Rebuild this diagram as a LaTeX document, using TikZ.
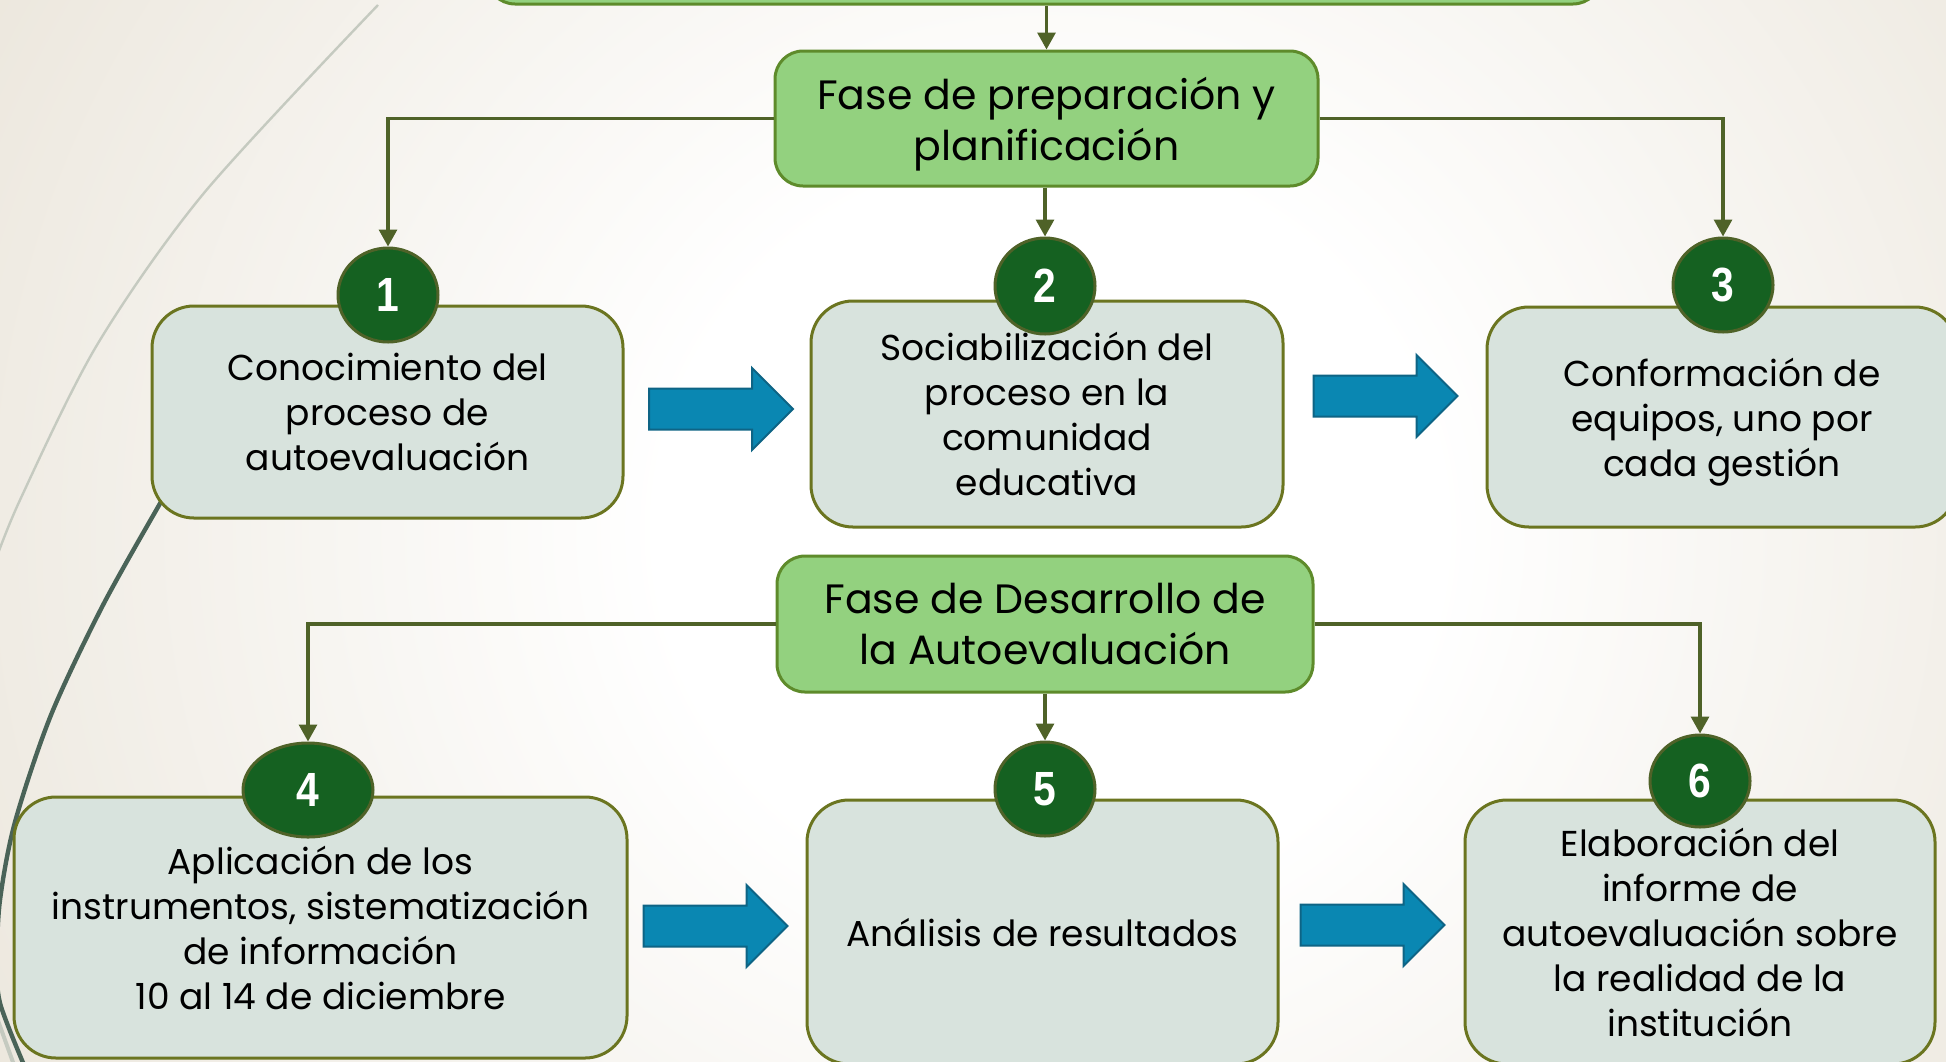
\documentclass[tikz,border=0pt]{standalone}
\usepackage{fontspec}
\setmainfont{Poppins}
\newfontfamily\numfont[FakeStretch=0.85]{Liberation Sans}
\usetikzlibrary{shapes.geometric,arrows.meta}
\definecolor{bgbeige}{HTML}{E4DDCF}
\definecolor{phasefill}{HTML}{93D17F}
\definecolor{phaseborder}{HTML}{5E8B2B}
\definecolor{boxfill}{HTML}{D8E3DD}
\definecolor{boxborder}{HTML}{6B7520}
\definecolor{circfill}{HTML}{156121}
\definecolor{circborder}{HTML}{4F6228}
\definecolor{conncolor}{HTML}{4F6228}
\definecolor{arrowfill}{HTML}{0A87B2}
\definecolor{arrowborder}{HTML}{0E6485}
\definecolor{curvedark}{HTML}{4A6358}
\definecolor{curvelight}{HTML}{C5CAC0}
\pgfdeclareradialshading{bgshade}{\pgfpoint{0bp}{0bp}}{color(0bp)=(white); color(9bp)=(white); color(36bp)=(bgbeige); color(100bp)=(bgbeige)}
\tikzset{
  phasebox/.style={draw=phaseborder, fill=phasefill, rounded corners=14pt, line width=1.5pt,
    align=center, inner sep=0pt, text depth=0pt, font=\fontsize{20.5}{25.5}\selectfont},
  stepbox/.style={draw=boxborder, fill=boxfill, rounded corners=21pt, line width=1.5pt,
    align=center, inner sep=0pt, text depth=0pt, font=\fontsize{18}{22.5}\selectfont},
  numc/.style={ellipse, draw=circborder, fill=circfill, line width=1.5pt, text=white,
    inner sep=0pt, font=\numfont\bfseries\fontsize{24}{24}\selectfont},
  conn/.style={draw=conncolor, line width=1.6pt, -{Triangle[length=8.5pt,width=9pt]}},
  blockarrow/.style={fill=arrowfill, draw=arrowborder, line width=1pt, line join=miter},
  barrow/.pic={\draw[blockarrow] (-72,-20.5) -- (31,-20.5) -- (31,-41) -- (72,0) -- (31,41) -- (31,20.5) -- (-72,20.5) -- cycle;}
}
\begin{document}
\begin{tikzpicture}[x=0.5pt,y=-0.5pt]
\useasboundingbox (0,0) rectangle (1946,1061);
\clip (0,0) rectangle (1946,1061);
\shade[shading=bgshade] (-30,-500) rectangle (2130,1560);
% decorative theme curves
\draw[curvelight, line width=1.2pt] plot[smooth] coordinates {(378,5) (204,193) (97,345) (20,500) (-8,570)};
\draw[curvelight, line width=2pt] plot[smooth] coordinates {(-4,1015) (5,1040) (14,1065)};
\draw[curvedark, line width=2.2pt] plot[smooth] coordinates {(180,470) (158,507) (102,607) (51,715) (15,822) (0,900) (-3,960) (0,1003) (24,1065)};
% top phase bar
\node[phasebox, minimum width=557pt, minimum height=32pt] (top) at (1044,-28) {};
% phase boxes
\node[phasebox, minimum width=271.5pt, minimum height=67.5pt] (p1) at (1046.5,118.5) {Fase de preparación y\\planificación};
\node[phasebox, minimum width=268pt, minimum height=68pt] (p2) at (1045,624) {Fase de Desarrollo de\\la Autoevaluación};
% step boxes
\node[stepbox, minimum width=235.5pt, minimum height=106pt] (b1) at (387.5,412) {Conocimiento del\\proceso de\\autoevaluación};
\node[stepbox, minimum width=236pt, minimum height=113pt] (b2) at (1047,414) {Sociabilización del\\proceso en la\\comunidad\\educativa};
\node[stepbox, minimum width=235pt, minimum height=110pt] (b3) at (1722,417) {Conformación de\\equipos, uno por\\cada gestión};
\node[stepbox, minimum width=306.5pt, minimum height=130.5pt] (b4) at (320.5,927.5) {Aplicación de los\\instrumentos, sistematización\\de información\\10 al 14 de diciembre};
\node[stepbox, minimum width=235.5pt, minimum height=132pt] (b5) at (1042.5,932) {Análisis de resultados};
\node[stepbox, minimum width=235pt, minimum height=132pt] (b6) at (1700,932) {Elaboración del\\informe de\\autoevaluación sobre\\la realidad de la\\institución};
% number circles
\node[numc, minimum width=50pt, minimum height=47pt] (c1) at (388,295) {1};
\node[numc, minimum width=50pt, minimum height=48pt] (c2) at (1045,286) {2};
\node[numc, minimum width=50pt, minimum height=47pt] (c3) at (1723,285) {3};
\node[numc, minimum width=65pt, minimum height=47pt] (c4) at (308,790) {4};
\node[numc, minimum width=50pt, minimum height=47pt] (c5) at (1045,789) {5};
\node[numc, minimum width=50pt, minimum height=46pt] (c6) at (1700,781) {6};
% connectors
\draw[conn] (top.south -| p1.north) -- (p1.north);
\draw[conn] (p1.west) -| (c1.north);
\draw[conn] (p1.east) -| (c3.north);
\draw[conn] (p1.south -| c2.north) -- (c2.north);
\draw[conn] (p2.west) -| (c4.north);
\draw[conn] (p2.east) -| (c6.north);
\draw[conn] (p2.south -| c5.north) -- (c5.north);
% block arrows
\pic at (721,409) {barrow};
\pic at (1385.5,396) {barrow};
\pic at (715.5,926) {barrow};
\pic at (1372.5,925) {barrow};
\end{tikzpicture}
\end{document}
